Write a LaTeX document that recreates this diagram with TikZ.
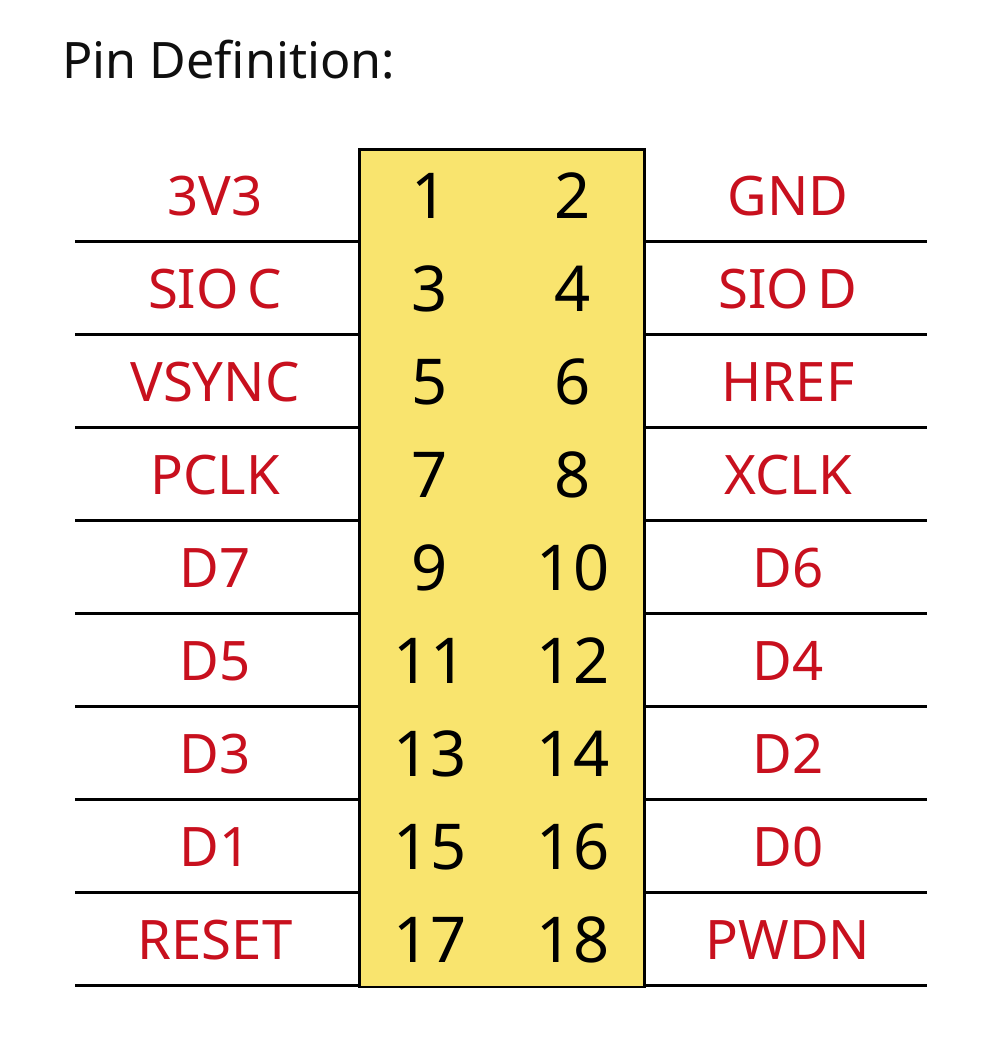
\documentclass[tikz,border=0pt]{standalone}
\usepackage{fontspec}
\setmainfont{Noto Sans}
\newfontfamily\pinfont{Noto Sans}[WordSpace=0.6]
\usepackage{xcolor}
\usetikzlibrary{positioning, calc}

\definecolor{pinred}{HTML}{C8101E}
\definecolor{pinyellow}{HTML}{F9E46E}
\definecolor{titlegray}{HTML}{0F0F0F}

\begin{document}
\begin{tikzpicture}[x=0.02cm, y=-0.02cm]
    % Styles
    \tikzstyle{pinlabel} = [anchor=base, text=pinred, inner sep=0pt, font=\pinfont\fontsize{31pt}{36pt}\selectfont]
    \tikzstyle{pinnum} = [anchor=base, text=black, inner sep=0pt, font=\fontsize{36pt}{42pt}\selectfont]
    \tikzstyle{rowline} = [line width=1.7pt, black]

    \useasboundingbox[fill=white] (0,0) rectangle (1000,1046);

    % Title
    \node[anchor=base west, inner sep=0pt, text=titlegray, font=\fontsize{28.6pt}{34pt}\selectfont] (title) at (62,78) {Pin Definition:};

    % Yellow header body
    \node[draw, line width=1.5pt, fill=pinyellow, minimum width=5.7cm, minimum height=16.76cm, inner sep=0pt, anchor=north west] (header) at (358,148) {};

    % Pin numbers and signal names
    \foreach \row/\lname/\rname in {0/3V3/GND, 1/SIO C/SIO D, 2/VSYNC/HREF, 3/PCLK/XCLK, 4/D7/D6, 5/D5/D4, 6/D3/D2, 7/D1/D0, 8/RESET/PWDN} {
        \pgfmathsetmacro{\ymid}{148 + 93.1*\row + 46.55}
        \pgfmathtruncatemacro{\odd}{2*\row + 1}
        \pgfmathtruncatemacro{\even}{2*\row + 2}
        \node[pinlabel] (left\odd) at (215,\ymid+20.5) {\lname};
        \node[pinlabel] (right\even) at (788,\ymid+20.5) {\rname};
        \node[pinnum] (num\odd) at (430,\ymid+23.5) {\odd};
        \node[pinnum] (num\even) at (573,\ymid+23.5) {\even};
    }

    % Separator lines
    \foreach \row in {1,...,9} {
        \pgfmathsetmacro{\yline}{148 + 93.1*\row}
        \draw[rowline] (75,\yline) -- (header.west |- 0,\yline);
        \draw[rowline] (header.east |- 0,\yline) -- (927,\yline);
    }
\end{tikzpicture}
\end{document}
